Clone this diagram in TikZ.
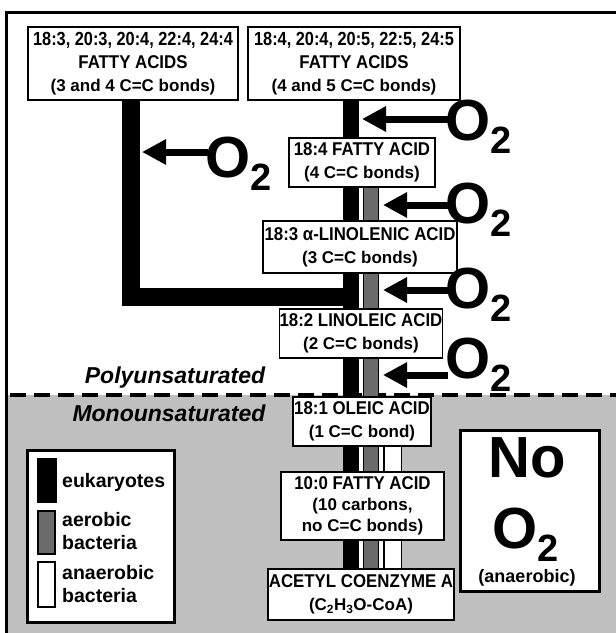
\documentclass[tikz,border=0pt]{standalone}
\usepackage{fontspec}
\setmainfont{Liberation Sans}
\newfontfamily\titlefont[FakeStretch=0.91]{Liberation Sans}
\newfontfamily\listfont[FakeStretch=0.86]{Liberation Sans}
\usetikzlibrary{arrows.meta}

\definecolor{bargray}{gray}{0.42}
\definecolor{bggray}{gray}{0.75}

\newcommand{\ttl}[1]{{\titlefont\fontsize{18.5}{23}\selectfont #1}}
\newcommand{\lst}[1]{{\listfont\fontsize{19}{23}\selectfont #1}}
\newcommand{\otwo}{O\raisebox{-13pt}{\fontsize{38}{38}\selectfont 2}}

\begin{document}
\begin{tikzpicture}[x=1pt,y=-1pt,
    acid/.style={draw, fill=white, line width=1.2pt, inner sep=0pt, align=center,
      font=\bfseries\fontsize{17}{23}\selectfont},
    euk/.style={line width=15.5pt},
    aero/.style={draw=black, line width=1.3pt, double=bargray, double distance=13.5pt},
    anaero/.style={draw=black, line width=1.3pt, double=white, double distance=16pt},
    halo/.style={draw=white, line width=24pt},
    o2/.style={inner sep=0pt, anchor=base west, font=\bfseries\fontsize{58}{58}\selectfont},
    o2arrow/.style={line width=7pt, -{Triangle[length=24pt,width=24pt]}},
    zone/.style={inner sep=0pt, anchor=base, font=\bfseries\itshape\fontsize{23}{23}\selectfont},
    legtxt/.style={inner sep=0pt, anchor=west, align=left, font=\bfseries\fontsize{19.5}{23}\selectfont},
    thickbox/.style={draw, fill=white, line width=3pt, inner sep=0pt}
  ]
  \useasboundingbox (0,0) rectangle (616,633);
  \clip (0,0) rectangle (616,633);

  % background: anaerobic zone and frame
  \fill[bggray] (8,395) rectangle (620,640);
  \draw[line width=3pt] (6.5,640) -- (6.5,12.5) -- (620,12.5);
  \draw[line width=4pt, dash pattern=on 16pt off 8pt] (10,395) -- (620,395);

  \node[zone] (poly) at (175,383) {Polyunsaturated};
  \node[zone] (mono) at (169,421) {Monounsaturated};

  % fatty acids
  \node[acid, minimum width=210pt, minimum height=73pt] (fa34) at (133,63.5)
    {\lst{18:3, 20:3, 20:4, 22:4, 24:4}\\ \ttl{FATTY ACIDS}\\ (3 and 4 C=C bonds)};
  \node[acid, minimum width=212pt, minimum height=73pt] (fa45) at (354,63.5)
    {\lst{18:4, 20:4, 20:5, 22:5, 24:5}\\ \ttl{FATTY ACIDS}\\ (4 and 5 C=C bonds)};
  \node[acid, minimum width=146pt, minimum height=49pt] (fa4) at (362,162.5)
    {\ttl{18:4 FATTY ACID}\\ (4 C=C bonds)};
  \node[acid, minimum width=194pt, minimum height=52pt] (ala) at (360,247)
    {\ttl{18:3 α-LINOLENIC ACID}\\ (3 C=C bonds)};
  \node[acid, minimum width=162pt, minimum height=49pt] (lin) at (361,333.5)
    {\ttl{18:2 LINOLEIC ACID}\\ (2 C=C bonds)};
  \node[acid, minimum width=138pt, minimum height=49pt] (ole) at (362,421.5)
    {\ttl{18:1 OLEIC ACID}\\ (1 C=C bond)};
  \node[acid, minimum width=163pt, minimum height=68pt, font=\bfseries\fontsize{17}{21}\selectfont] (dec) at (362.5,506)
    {{\titlefont\fontsize{18.5}{21}\selectfont 10:0 FATTY ACID}\\ (10 carbons,\\ no C=C bonds)};
  \node[acid, minimum width=186pt, minimum height=51pt] (acc) at (361,594.5)
    {\ttl{ACETYL COENZYME A}\\ (C\textsubscript{2}H\textsubscript{3}O-CoA)};

  % pathways
  \coordinate (ekx) at (351,0);
  \coordinate (aex) at (371,0);
  \coordinate (anx) at (392.5,0);
  \coordinate (join) at (351,297);
  \draw[euk, line width=18pt] ([xshift=-2.5pt]fa34.south) |- (join);
  \foreach \u/\l in {fa45/fa4, fa4/ala, ala/lin, lin/ole, ole/dec, dec/acc}
    \draw[euk] (ekx |- \u.south) -- (ekx |- \l.north);
  \foreach \u/\l in {ole/dec, dec/acc}
    \draw[halo] (aex |- \u.south) -- (aex |- \l.north);
  \foreach \u/\l in {fa4/ala, ala/lin, lin/ole, ole/dec, dec/acc}
    \draw[aero] (aex |- \u.south) -- (aex |- \l.north);
  \foreach \u/\l in {ole/dec, dec/acc}
    \draw[anaero] (anx |- \u.south) -- (anx |- \l.north);

  % oxygen
  \node[o2] (o2a) at (205,177) {\otwo};
  \node[o2] (o2b) at (445,140) {\otwo};
  \node[o2] (o2c) at (445,223) {\otwo};
  \node[o2] (o2d) at (445,308) {\otwo};
  \node[o2] (o2e) at (445,378) {\otwo};
  \coordinate (tipa) at (142,152);
  \coordinate (tipb) at (362,119);
  \coordinate (tipc) at (383,205);
  \coordinate (tipd) at (383,290);
  \coordinate (tipe) at (383,375);
  \foreach \n in {a,b,c,d,e}
    \draw[o2arrow] ([xshift=3pt]o2\n.west |- tip\n) -- (tip\n);

  % no oxygen
  \node[thickbox, minimum width=139pt, minimum height=161pt] (noox) at (529.5,510.5) {};
  \node[o2, anchor=base] (no) at (527,477) {No};
  \node[o2] (o2f) at (492,548) {\otwo};
  \node[inner sep=0pt, anchor=base, font=\bfseries\fontsize{18}{18}\selectfont] (anae) at (527,582) {(anaerobic)};

  % legend
  \node[thickbox, minimum width=147pt, minimum height=172pt] (legend) at (100.5,536) {};
  \fill (37,458) rectangle (57,503);
  \filldraw[fill=bargray, line width=1.3pt] (38,511) rectangle (55,554);
  \filldraw[fill=white, line width=1.3pt] (38,562) rectangle (55,607);
  \node[legtxt] (lgeuk) at (62,482) {eukaryotes};
  \node[legtxt] (lgaer) at (62,531) {aerobic\\bacteria};
  \node[legtxt] (lgana) at (62,584) {anaerobic\\bacteria};
\end{tikzpicture}
\end{document}
